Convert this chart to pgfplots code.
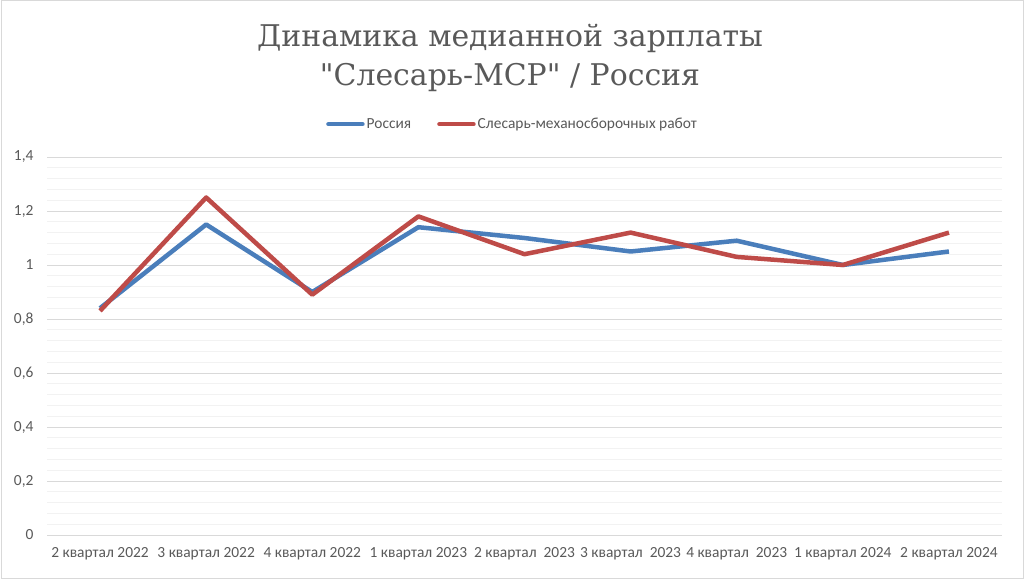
\documentclass[border=0pt]{standalone}
\usepackage{fontspec}
\setmainfont{Carlito}
\newfontfamily\titlefont{DejaVu Serif}
\usepackage{pgfplots}
\pgfplotsset{compat=1.18}
\definecolor{ruBlue}{HTML}{4A7EBB}
\definecolor{ruRed}{HTML}{BE4B48}
\definecolor{txtGray}{HTML}{595959}
\definecolor{gridMaj}{HTML}{D9D9D9}
\definecolor{gridMin}{HTML}{F2F2F2}
\begin{document}
\begin{tikzpicture}
\useasboundingbox (0,0) rectangle (1024bp,579bp);
\draw[gridMaj, line width=1bp] (1bp,1bp) rectangle (1023bp,578bp);
\node[text=txtGray, font=\titlefont\fontsize{30}{39}\selectfont, align=center] at (510bp,521bp)
  {Динамика медианной зарплаты\\"Слесарь-МСР" / Россия};
\begin{axis}[
  at={(47bp,44bp)}, anchor=south west,
  scale only axis, width=955bp, height=378bp,
  xmin=-0.5, xmax=8.5, ymin=0, ymax=1.4,
  xtick={0,...,8},
  xticklabels={2 квартал 2022,3 квартал 2022,4 квартал 2022,1 квартал 2023,2 квартал\ \ 2023,3 квартал\ \ 2023,4 квартал\ \ 2023,1 квартал 2024,2 квартал 2024},
  ytick={0,0.2,...,1.4},
  minor y tick num=4,
  ymajorgrids, yminorgrids,
  major grid style={gridMaj, line width=0.9bp},
  minor grid style={gridMin, line width=0.9bp},
  axis line style={draw=none},
  major tick length=0pt, minor tick length=0pt,
  tick label style={text=txtGray, font=\fontsize{15.5}{18}\selectfont},
  /pgf/number format/use comma,
  /pgf/number format/assume math mode=true,
  yticklabel style={xshift=-10bp},
  xticklabel style={yshift=-9bp},
  legend columns=2,
  legend style={at={(0.4875,1.087)}, anchor=center, draw=none, fill=none,
    font=\fontsize{15.5}{18}\selectfont, text=txtGray,
    /tikz/every even column/.append style={column sep=24bp}},
  legend image code/.code={\draw[#1, line width=4.5bp, line cap=round] (0bp,0bp) -- (34bp,0bp);},
  legend cell align=left,
]
\addplot[ruBlue, line width=4.5bp, line join=round] coordinates {
  (0,0.84) (1,1.15) (2,0.90) (3,1.14) (4,1.10) (5,1.05) (6,1.09) (7,1.00) (8,1.05)};
\addlegendentry{Россия}
\addplot[ruRed, line width=4.5bp, line join=round] coordinates {
  (0,0.83) (1,1.25) (2,0.89) (3,1.18) (4,1.04) (5,1.12) (6,1.03) (7,1.00) (8,1.12)};
\addlegendentry{Слесарь-механосборочных работ}
\end{axis}
\end{tikzpicture}
\end{document}
